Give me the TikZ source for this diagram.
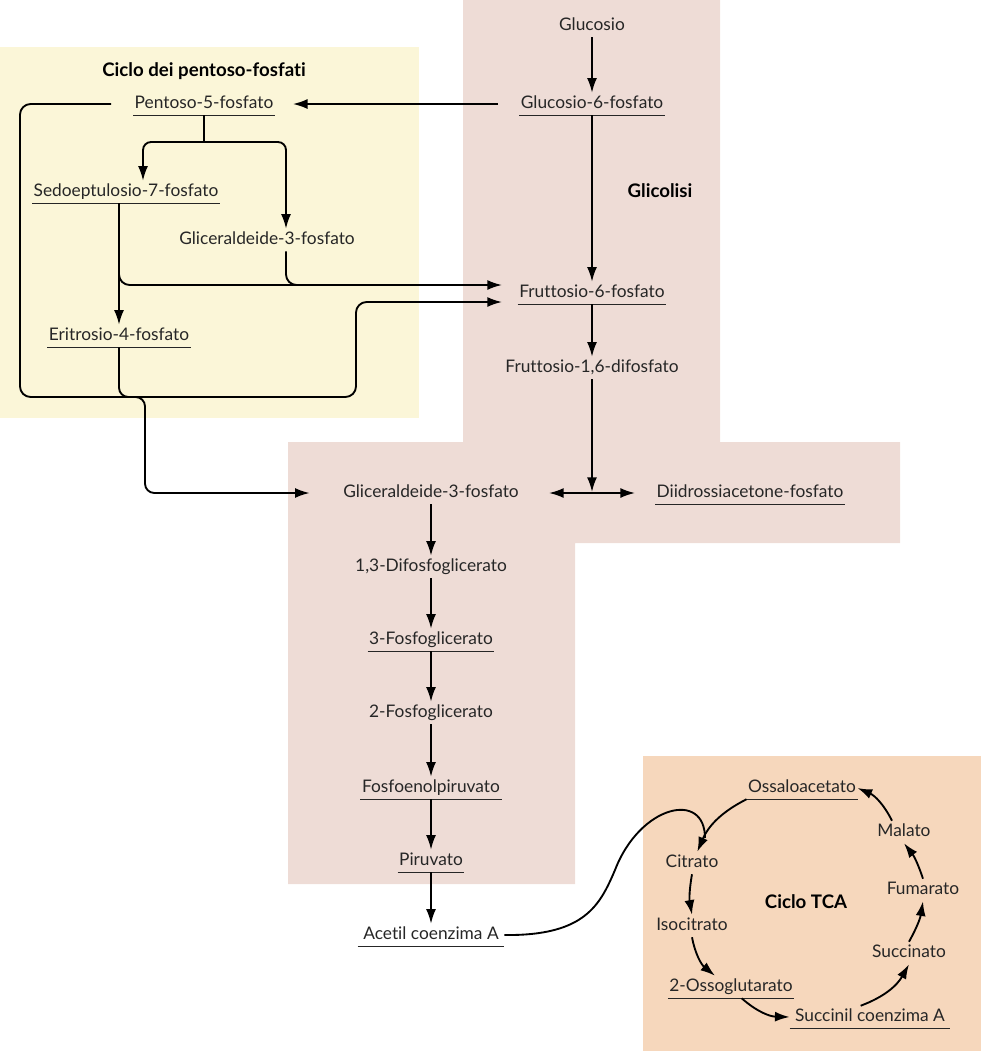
\documentclass[tikz,border=0pt]{standalone}
\usepackage{fontspec}
\setmainfont{Lato}[Ligatures=NoCommon]
\usetikzlibrary{arrows.meta}

\definecolor{glypink}{RGB}{238,220,214}
\definecolor{pppyellow}{RGB}{251,246,216}
\definecolor{tcaorange}{RGB}{246,215,188}

\begin{document}
\begin{tikzpicture}[
    x=0.75pt, y=0.75pt,
    every node/.style={font=\fontsize{13}{15}\selectfont, text=black!85},
    met/.style={inner xsep=3pt, inner ysep=2pt, text height=9.5pt, text depth=3pt},
    ul/.style={met, inner xsep=1pt, append after command={(\tikzlastnode.south west) edge[ulline] (\tikzlastnode.south east)}},
    ulline/.style={draw=black!85, line width=0.75pt},
    title/.style={font=\fontsize{14}{16}\selectfont\bfseries, text=black},
    arrow/.style={-{Latex[length=11pt,width=7.5pt]}, line width=1.4pt, black},
    both/.style={arrow, {Latex[length=11pt,width=7.5pt]}-{Latex[length=11pt,width=7.5pt]}},
    link/.style={line width=1.4pt, black},
    cyc/.style={arrow, bend right=20}
]
\useasboundingbox (0,0) rectangle (981,-1051);

% backgrounds
\fill[glypink] (463,0) -- (720,0) -- (720,-442) -- (900,-442) -- (900,-543)
    -- (575,-543) -- (575,-884) -- (288,-884) -- (288,-442) -- (463,-442) -- cycle;
\fill[pppyellow] (0,-47) rectangle (419,-418);
\fill[tcaorange] (643,-756) rectangle (981,-1051);

% glicolisi
\node[met] (glc) at (592,-26) {Glucosio};
\node[ul] (g6p) at (592,-104) {Glucosio-6-fosfato};
\node[title] (glyc) at (660,-191) {Glicolisi};
\node[ul] (f6p) at (592,-293) {Fruttosio-6-fosfato};
\node[met] (f16) at (592,-368) {Fruttosio-1,6-difosfato};
\node[met] (gap) at (431,-493) {Gliceraldeide-3-fosfato};
\node[ul] (dhap) at (750,-493) {Diidrossiacetone-fosfato};
\node[met] (bpg) at (431,-567) {1,3-Difosfoglicerato};
\node[ul] (pg3) at (431,-640) {3-Fosfoglicerato};
\node[met] (pg2) at (431,-713) {2-Fosfoglicerato};
\node[ul] (pep) at (431,-788) {Fosfoenolpiruvato};
\node[ul] (pyr) at (431,-861) {Piruvato};
\node[ul, inner xsep=4pt] (aca) at (431,-935) {Acetil coenzima A};
\coordinate (jn) at (592,-492);

% pentoso-fosfati
\node[title] (ppp) at (204,-71) {Ciclo dei pentoso-fosfati};
\node[ul] (p5p) at (204,-104) {Pentoso-5-fosfato};
\node[ul] (s7p) at (126,-192) {Sedoeptulosio-7-fosfato};
\node[met] (gapp) at (267,-240) {Gliceraldeide-3-fosfato};
\node[ul] (e4p) at (119,-336) {Eritrosio-4-fosfato};
\coordinate (split) at (204,-142);
\coordinate (in1) at (502,-285);
\coordinate (in2) at (502,-302);

% ciclo TCA
\node[title] (tca) at (806,-902) {Ciclo TCA};
\node[ul] (oaa) at (802,-788) {Ossaloacetato};
\node[met] (mal) at (904,-832) {Malato};
\node[met] (cit) at (692,-863) {Citrato};
\node[met] (fum) at (923,-890) {Fumarato};
\node[met] (icit) at (692,-926) {Isocitrato};
\node[met] (suc) at (909,-953) {Succinato};
\node[ul] (akg) at (731,-987) {2-Ossoglutarato};
\node[ul, inner xsep=4pt] (sca) at (870,-1017) {Succinil coenzima A};

\draw[arrow] (glc) -- (g6p);
\draw[arrow] (g6p) -- (f6p);
\draw[arrow] (f6p) -- (f16);
\draw[arrow] (f16) -- (jn);
\draw[both, shorten <=19.5pt, shorten >=15pt] (gap) -- (dhap);
\draw[arrow] (gap) -- (bpg);
\draw[arrow] (bpg) -- (pg3);
\draw[arrow] (pg3) -- (pg2);
\draw[arrow] (pg2) -- (pep);
\draw[arrow] (pep) -- (pyr);
\draw[arrow] (pyr) -- (aca);

\draw[arrow, shorten <=15.75pt, shorten >=13.5pt] (g6p) -- (p5p);
\draw[link] (p5p) -- (split);
\draw[arrow, rounded corners=6pt] (split) -| ([xshift=12.75pt]s7p.north);
\draw[arrow, rounded corners=6pt] (split) -| ([xshift=14.25pt]gapp.north);
\draw[arrow] (s7p.south -| e4p.north) -- (e4p.north);
\draw[arrow, rounded corners=8pt] (s7p.south -| e4p.north) |- (in1);
\draw[link, rounded corners=8pt, shorten >=20pt] ([xshift=14.25pt]gapp.south) |- (in1);
\draw[arrow, rounded corners=8pt, shorten <=16.5pt] (p5p.west) -- (20,-104) -- (20,-397)
    -- (356,-397) -- (356,-302) -- (in2);
\draw[arrow, rounded corners=7pt, shorten >=22pt] (e4p.south) -- (119,-397) -- (145,-397)
    -- (145,-493) -- (gap.west);

\draw[link] (aca.east) .. controls (585,-936) and (600,-905) .. (615,-870)
    .. controls (640,-805) and (705,-790) .. (705,-838);
\draw[cyc] (oaa.south west) to ([xshift=4pt]cit.north);
\draw[cyc, bend right=10] (cit.south) to (icit.north);
\draw[cyc] (icit.south) to ([xshift=-12pt]akg.north);
\draw[cyc] ([xshift=8pt]akg.south) to (sca.west);
\draw[cyc] ([xshift=-7pt]sca.north) to (suc.south);
\draw[cyc, bend right=10] (suc.north) to (fum.south);
\draw[cyc, bend right=10] (fum.north) to (mal.south);
\draw[cyc] ([xshift=-9pt]mal.north) to (oaa.east);
\end{tikzpicture}
\end{document}
